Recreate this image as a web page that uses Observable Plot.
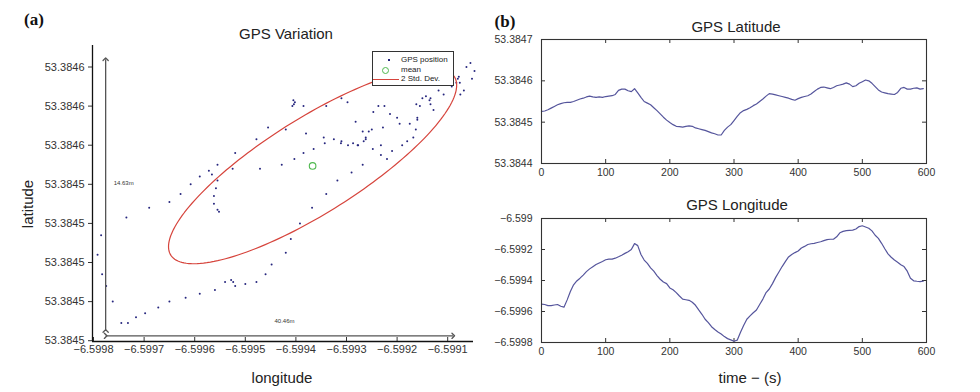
<!DOCTYPE html>
<html>
<head>
<meta charset="utf-8">
<script src="https://cdn.jsdelivr.net/npm/d3@7"></script>
<script src="https://cdn.jsdelivr.net/npm/@observablehq/plot@0.6"></script>
<style>
  html, body { margin: 0; padding: 0; background: #fff; }
  #wrap { position: relative; width: 980px; height: 392px; overflow: hidden; background: #fff;
          font-family: "Liberation Sans", Arial, Helvetica, sans-serif; }
  #wrap svg { position: absolute; overflow: visible; }
  .t { position: absolute; white-space: nowrap; color: #222; transform: translate(-50%, -50%); line-height: 1; }
  .panel { font-family: "Liberation Serif", "Times New Roman", serif; font-weight: bold; font-size: 17px; color: #111; }
</style>
</head>
<body>
<div id="wrap"></div>
<script>
// ---------------- data (sampled every 5 s) ----------------
const timeStep = 5;
const latitude = [
  53.384526, 53.384527, 53.384530, 53.384534, 53.384538, 53.384542, 53.384545, 53.384547, 53.384548, 53.384548,
  53.384550, 53.384553, 53.384556, 53.384558, 53.384561, 53.384563, 53.384561, 53.384560, 53.384561, 53.384560,
  53.384562, 53.384563, 53.384564, 53.384567, 53.384577, 53.384580, 53.384580, 53.384576, 53.384574, 53.384581,
  53.384571, 53.384560, 53.384550, 53.384546, 53.384542, 53.384535, 53.384528, 53.384520, 53.384512, 53.384505,
  53.384499, 53.384494, 53.384490, 53.384489, 53.384488, 53.384490, 53.384491, 53.384490, 53.384486, 53.384484,
  53.384482, 53.384480, 53.384477, 53.384474, 53.384472, 53.384469, 53.384469, 53.384480, 53.384488, 53.384494,
  53.384504, 53.384514, 53.384523, 53.384528, 53.384531, 53.384535, 53.384540, 53.384544, 53.384550, 53.384556,
  53.384563, 53.384569, 53.384568, 53.384566, 53.384564, 53.384562, 53.384560, 53.384558, 53.384555, 53.384553,
  53.384557, 53.384560, 53.384562, 53.384564, 53.384568, 53.384574, 53.384580, 53.384584, 53.384585, 53.384583,
  53.384581, 53.384584, 53.384588, 53.384590, 53.384592, 53.384595, 53.384592, 53.384586, 53.384588, 53.384594,
  53.384598, 53.384602, 53.384600, 53.384594, 53.384586, 53.384578, 53.384573, 53.384571, 53.384569, 53.384568,
  53.384567, 53.384572, 53.384582, 53.384584, 53.384580, 53.384580, 53.384582, 53.384583, 53.384580, 53.384581
];
const longitude = [
  -6.599552, -6.599555, -6.599562, -6.599562, -6.599558, -6.599555, -6.599566, -6.599572, -6.599525, -6.599471,
  -6.599428, -6.599403, -6.599385, -6.599365, -6.599343, -6.599325, -6.599311, -6.599297, -6.599287, -6.599277,
  -6.599266, -6.599262, -6.599262, -6.599256, -6.599247, -6.599237, -6.599225, -6.599214, -6.599200, -6.599162,
  -6.599175, -6.599232, -6.599268, -6.599290, -6.599318, -6.599340, -6.599368, -6.599392, -6.599410, -6.599420,
  -6.599448, -6.599460, -6.599478, -6.599500, -6.599520, -6.599524, -6.599528, -6.599540, -6.599560, -6.599590,
  -6.599618, -6.599650, -6.599672, -6.599698, -6.599716, -6.599732, -6.599745, -6.599762, -6.599775, -6.599783,
  -6.599792, -6.599785, -6.599735, -6.599690, -6.599650, -6.599628, -6.599608, -6.599590, -6.599555, -6.599520,
  -6.599478, -6.599455, -6.599420, -6.599380, -6.599345, -6.599310, -6.599278, -6.599248, -6.599232, -6.599220,
  -6.599210, -6.599190, -6.599180, -6.599168, -6.599163, -6.599160, -6.599155, -6.599150, -6.599143, -6.599136,
  -6.599134, -6.599134, -6.599118, -6.599092, -6.599083, -6.599078, -6.599076, -6.599075, -6.599068, -6.599052,
  -6.599047, -6.599055, -6.599063, -6.599080, -6.599108, -6.599128, -6.599160, -6.599195, -6.599228, -6.599250,
  -6.599268, -6.599282, -6.599298, -6.599310, -6.599340, -6.599385, -6.599402, -6.599405, -6.599407, -6.599404
];

// ---------------- ticks / labels ----------------
const latTicksA = [53.38446, 53.38448, 53.38450, 53.38452, 53.38454, 53.38456, 53.38458, 53.38460];
const lonTicksA = [-6.5998, -6.5997, -6.5996, -6.5995, -6.5994, -6.5993, -6.5992, -6.5991];
const timeTicks = [0, 100, 200, 300, 400, 500, 600];
const latTicksB = [53.3844, 53.3845, 53.3846, 53.3847];
const lonTicksB = [-6.5998, -6.5996, -6.5994, -6.5992, -6.599];
const legendLabels = ["GPS position", "mean", "2 Std. Dev."];
// distance annotations (data units)
const spanArrows = [
  {x1: -6.599776, y1: 53.384465, x2: -6.599776, y2: 53.384604, label: "14.63m", dx: 8, dy: -10, anchor: "start"},
  {x1: -6.599776, y1: 53.3844625, x2: -6.599089, y2: 53.3844625, label: "40.46m", dx: 5, dy: -13, anchor: "middle"}
];
const ellipseScale = 1.4;

// ---------------- derived table ----------------
const rows = latitude.map((lat, i) => ({t: i * timeStep, lat, lon: longitude[i]}));

const mLon = d3.mean(longitude), mLat = d3.mean(latitude);
const n = rows.length;
const ddx = longitude.map(v => v - mLon), ddy = latitude.map(v => v - mLat);
const sxx = d3.sum(ddx, d => d * d) / (n - 1);
const syy = d3.sum(ddy, d => d * d) / (n - 1);
const sxy = d3.sum(ddx.map((d, i) => d * ddy[i])) / (n - 1);
const tr = sxx + syy, det = sxx * syy - sxy * sxy;
const disc = Math.sqrt(Math.max(0, tr * tr / 4 - det));
const l1 = tr / 2 + disc, l2 = Math.max(0, tr / 2 - disc);
const th = 0.5 * Math.atan2(2 * sxy, sxx - syy);
const ellipse = d3.range(0, 361, 2).map(deg => {
  const p = deg * Math.PI / 180;
  const u = ellipseScale * Math.sqrt(l1) * Math.cos(p), v = ellipseScale * Math.sqrt(l2) * Math.sin(p);
  return {x: mLon + u * Math.cos(th) - v * Math.sin(th), y: mLat + u * Math.sin(th) + v * Math.cos(th)};
});

const wrap = document.getElementById("wrap");
const font = '"Liberation Sans", Arial, Helvetica, sans-serif';
const f4 = d3.format(".4f");
const f4t = d3.format(".4~f");

// ---------------- panel (a) ----------------
const xDomA = [-6.599802, -6.599049];
const yDomA = [53.3844596, 53.384611];
const pA = Plot.plot({
  width: 490, height: 392,
  marginLeft: 92, marginRight: 17, marginTop: 45, marginBottom: 51,
  style: {fontFamily: font, fontSize: "11px", color: "#333", background: "transparent"},
  x: {domain: xDomA},
  y: {domain: yDomA},
  marks: [
    Plot.axisY(latTicksA, {tickSize: 4, tickPadding: 4, tickFormat: f4, label: null, fontSize: 11}),
    Plot.axisX(lonTicksA, {tickSize: 0, tickPadding: 4, tickFormat: f4, label: null, fontSize: 11}),
    Plot.tickX(lonTicksA, {x: d => d, insetTop: 292, stroke: "#333"}),
    Plot.dot(rows, {x: "lon", y: "lat", r: 1, fill: "#26267e", stroke: null}),
    Plot.line(ellipse, {x: "x", y: "y", stroke: "#d6443c", strokeWidth: 1.2}),
    Plot.dot([{x: mLon, y: mLat}], {x: "x", y: "y", r: 3.3, stroke: "#4fb84f", strokeWidth: 1.1, fill: "none"}),
    Plot.link(spanArrows, {x1: "x1", y1: "y1", x2: "x2", y2: "y2", stroke: "#555", strokeWidth: 1.3,
      markerStart: "arrow", markerEnd: "arrow"}),
    Plot.text(spanArrows, {x: d => (d.x1 + d.x2) / 2, y: d => (d.y1 + d.y2) / 2, text: "label",
      fontSize: 6, fill: "#333"}),
    Plot.ruleX([xDomA[0]], {stroke: "#111", strokeWidth: 1.3}),
    Plot.ruleY([yDomA[0]], {stroke: "#111", strokeWidth: 1.3})
  ]
});
pA.style.left = "0px"; pA.style.top = "0px";
wrap.appendChild(pA);

// ---------------- panels (b) ----------------
function seriesPlot(key, domain, ticks, fmt, mt, mb) {
  const w = 490, h = 196, ml = 51, mr = 54;
  const ih = h - mt - mb, iw = w - ml - mr;
  return Plot.plot({
    width: w, height: h, marginLeft: ml, marginRight: mr, marginTop: mt, marginBottom: mb,
    style: {fontFamily: font, fontSize: "10.5px", color: "#333", background: "transparent"},
    x: {domain: [0, 600]},
    y: {domain},
    marks: [
      Plot.axisX(timeTicks, {tickSize: 0, tickPadding: 5, label: null, fontSize: 10.5}),
      Plot.axisY(ticks, {tickSize: 0, tickPadding: 9, tickFormat: fmt, label: null, fontSize: 10.5}),
      Plot.tickX(timeTicks, {x: d => d, insetTop: ih - 4, stroke: "#333"}),
      Plot.tickX(timeTicks, {x: d => d, insetBottom: ih - 4, stroke: "#333"}),
      Plot.tickY(ticks, {y: d => d, insetRight: iw - 4, stroke: "#333"}),
      Plot.tickY(ticks, {y: d => d, insetLeft: iw - 4, stroke: "#333"}),
      Plot.line(rows, {x: "t", y: key, stroke: "#55559c", strokeWidth: 1.2}),
      Plot.frame({stroke: "#333", strokeWidth: 1.1})
    ]
  });
}
const pLat = seriesPlot("lat", [53.3844, 53.3847], latTicksB, f4, 39, 33);
pLat.style.left = "490px"; pLat.style.top = "0px";
wrap.appendChild(pLat);
const pLon = seriesPlot("lon", [-6.5998, -6.599], lonTicksB, f4t, 22, 50);
pLon.style.left = "490px"; pLon.style.top = "196px";
wrap.appendChild(pLon);

// ---------------- text ----------------
function addText(txt, x, y, size, extra = {}) {
  const d = document.createElement("div");
  d.className = "t";
  d.textContent = txt;
  d.style.left = x + "px"; d.style.top = y + "px"; d.style.fontSize = size + "px";
  Object.assign(d.style, extra);
  wrap.appendChild(d);
  return d;
}
const pa = addText("(a)", 34, 19, 17); pa.classList.add("panel");
const pb = addText("(b)", 505, 21, 17); pb.classList.add("panel");
addText("GPS Variation", 286, 33, 15);
addText("longitude", 282, 377, 15);
addText("latitude", 27, 204, 15, {transform: "translate(-50%, -50%) rotate(-90deg)"});
addText("GPS Latitude", 736, 26, 15);
addText("GPS Longitude", 737, 204, 15);
addText("time \u2212 (s)", 750, 377, 15);

// ---------------- legend (a) ----------------
const lg = document.createElement("div");
Object.assign(lg.style, {position: "absolute", left: "372px", top: "51px", width: "80px", height: "33px",
  border: "1px solid #333", background: "#fff", fontFamily: font, fontSize: "8px", color: "#222"});
wrap.appendChild(lg);
legendLabels.forEach((lab, i) => {
  const y = 4 + i * 9.5;
  const tx = document.createElement("div");
  Object.assign(tx.style, {position: "absolute", left: "28px", top: y + "px", lineHeight: "8px", whiteSpace: "nowrap"});
  tx.textContent = lab;
  lg.appendChild(tx);
  const mk = document.createElement("div");
  mk.style.position = "absolute";
  if (i === 0) Object.assign(mk.style, {left: "15px", top: (y + 3) + "px", width: "2px", height: "2px", background: "#26267e"});
  if (i === 1) Object.assign(mk.style, {left: "9px", top: (y + 1) + "px", width: "5px", height: "5px", border: "1px solid #4fb84f", borderRadius: "50%"});
  if (i === 2) Object.assign(mk.style, {left: "0px", top: (y + 4) + "px", width: "26px", height: "1.2px", background: "#d6443c"});
  lg.appendChild(mk);
});

// annotation label offsets
pA.querySelectorAll("g[aria-label='text'] text").forEach((t, i) => {
  const a = spanArrows[i];
  if (!a) return;
  const x = +t.getAttribute("x") || 0, y = +t.getAttribute("y") || 0;
  t.setAttribute("x", x + a.dx); t.setAttribute("y", y + a.dy);
  t.setAttribute("text-anchor", a.anchor);
});
</script>
</body>
</html>
